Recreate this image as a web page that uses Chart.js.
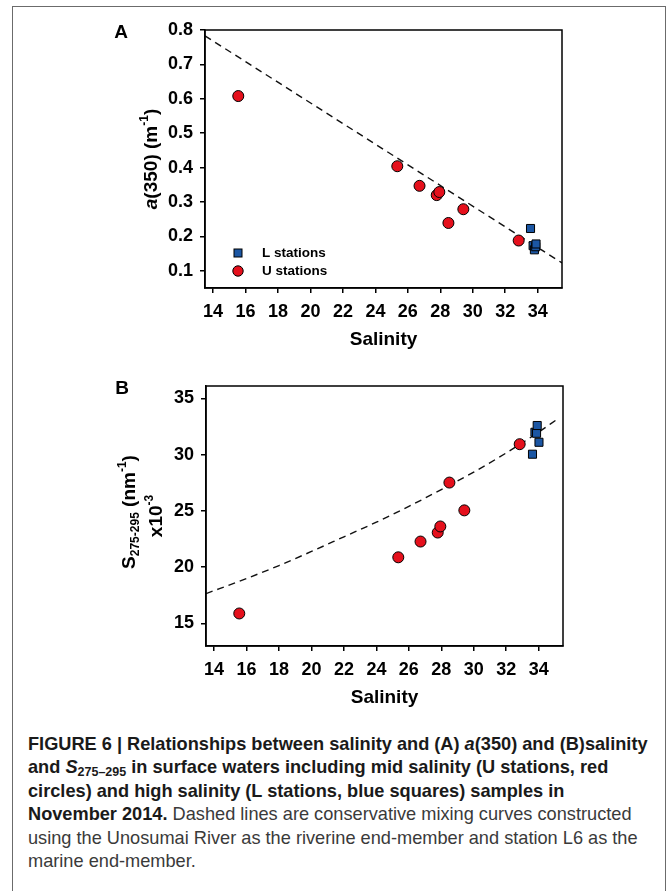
<!DOCTYPE html>
<html>
<head>
<meta charset="UTF-8">
<title>Salinity vs a(350) and S275-295</title>
<script src="https://cdn.jsdelivr.net/npm/chart.js"></script>
<style>
  body { margin: 0; background: #fff; font-family: "Liberation Sans", Arial, sans-serif; }
  #frame { position: absolute; left: 12px; top: 6px; width: 652px; height: 900px;
           border: 1px solid #6b6b6b; border-bottom: none; }
  canvas { position: absolute; left: 0; }
  #chartA { top: 0; }
  #chartB { top: 356px; }
  .cap { position: absolute; left: 28px; font-size: 18.2px; line-height: 23.4px;
         white-space: nowrap; color: #3a3a3a; }
  .cap b { color: #1a1a1a; }
  .cap sub { font-size: 12.5px; vertical-align: -3px; line-height: 0; }
</style>
</head>
<body>
<div id="frame"></div>
<canvas id="chartA" width="667" height="360"></canvas>
<canvas id="chartB" width="667" height="362"></canvas>

<div class="cap" style="top:733px"><b>FIGURE 6 | Relationships between salinity and (A) <i>a</i>(350) and (B)salinity</b></div>
<div class="cap" style="top:756px"><b>and <i>S</i><sub>275–295</sub> in surface waters including mid salinity (U stations, red</b></div>
<div class="cap" style="top:780px"><b>circles) and high salinity (L stations, blue squares) samples in</b></div>
<div class="cap" style="top:803px"><b>November 2014.</b> Dashed lines are conservative mixing curves constructed</div>
<div class="cap" style="top:827px">using the Unosumai River as the riverine end-member and station L6 as the</div>
<div class="cap" style="top:850px">marine end-member.</div>

<script>
// U stations (mid salinity) - same stations in both panels
const uSal = [15.55, 25.35, 26.72, 27.78, 27.94, 28.50, 29.42, 32.83];
const uA350 = [0.608, 0.404, 0.347, 0.320, 0.329, 0.239, 0.279, 0.188];
const uS275 = [15.89, 20.88, 22.28, 23.08, 23.62, 27.52, 25.05, 30.93];

// L stations (high salinity), read per panel
const lSalA = [33.56, 33.72, 33.80, 33.88, 33.90];
const lA350 = [0.223, 0.173, 0.161, 0.170, 0.178];
const lSalB = [33.62, 33.77, 33.87, 33.91, 34.02];
const lS275 = [30.04, 31.99, 31.90, 32.59, 31.10];

// conservative mixing curves
const mixSalA = [13.5, 35.5];
const mixA350 = [0.783, 0.123];
const mixSalB = [13.5, 16, 18, 20, 22, 24, 26, 28, 30, 32, 34, 35.1];
const mixS275 = [17.65, 19.0, 20.15, 21.4, 22.7, 24.0, 25.4, 26.9, 28.45, 30.15, 32.0, 33.1];

// tick labels
const salTicks = [14, 16, 18, 20, 22, 24, 26, 28, 30, 32, 34];
const aTicks = [0.1, 0.2, 0.3, 0.4, 0.5, 0.6, 0.7, 0.8];
const sTicks = [15, 20, 25, 30, 35];

const FAM = '"Liberation Sans", Arial, sans-serif';
const RED = '#e5101c';
const BLUE = '#1b56a3';

const pts = (xs, ys) => xs.map((x, i) => ({ x: x, y: ys[i] }));

function drawRich(ctx, parts, cx, cy, rotate) {
  ctx.save();
  ctx.translate(cx, cy);
  if (rotate) ctx.rotate(-Math.PI / 2);
  let w = 0;
  parts.forEach(p => { ctx.font = p.font; w += ctx.measureText(p.t).width; });
  let x = -w / 2;
  ctx.textBaseline = 'middle';
  ctx.textAlign = 'left';
  ctx.fillStyle = '#000';
  parts.forEach(p => {
    ctx.font = p.font;
    ctx.fillText(p.t, x, p.dy || 0);
    x += ctx.measureText(p.t).width;
  });
  ctx.restore();
}

const fB = 'bold 19px ' + FAM;
const fBI = 'italic bold 19px ' + FAM;
const fS = 'bold 12px ' + FAM;

function makeChart(id, o) {
  const decor = {
    id: 'decor',
    afterDraw(chart) {
      const ctx = chart.ctx, a = chart.chartArea;
      ctx.save();
      ctx.strokeStyle = '#000';
      ctx.lineWidth = 1.5;
      ctx.strokeRect(a.left, a.top, a.right - a.left, a.bottom - a.top);
      // panel letter
      ctx.font = 'bold 19px ' + FAM;
      ctx.fillStyle = '#000';
      ctx.textAlign = 'center';
      ctx.textBaseline = 'middle';
      ctx.fillText(o.letter, a.left - 84, a.top + 3);
      // x title
      ctx.fillText('Salinity', (a.left + a.right) / 2, a.bottom + 52);
      ctx.restore();
      o.yTitle(ctx, a);
      if (o.legend) o.legend(ctx, a);
    }
  };
  return new Chart(document.getElementById(id), {
    type: 'scatter',
    data: {
      datasets: [
        { label: 'L stations', data: o.l, pointStyle: 'rect', pointRadius: 5.7,
          backgroundColor: BLUE, borderColor: '#000', borderWidth: 1 },
        { label: 'U stations', data: o.u, pointStyle: 'circle', pointRadius: 5.5,
          backgroundColor: RED, borderColor: '#000', borderWidth: 1 },
        { type: 'line', label: 'mixing', data: o.mix, showLine: true, pointRadius: 0,
          borderColor: '#111', borderWidth: 1.4, borderDash: [7, 5],
          cubicInterpolationMode: 'monotone', fill: false }
      ]
    },
    options: {
      responsive: false,
      animation: false,
      layout: { padding: { top: 30, right: o.right, left: 0, bottom: 0 } },
      plugins: { legend: { display: false }, tooltip: { enabled: false } },
      scales: {
        x: {
          type: 'linear', min: 13.5, max: 35.5,
          afterBuildTicks(s) { s.ticks = salTicks.map(v => ({ value: v })); },
          ticks: { color: '#000', padding: 8, maxRotation: 0, autoSkip: false,
                   font: { family: FAM, size: 18, weight: 'bold' } },
          grid: { drawOnChartArea: false, tickLength: 5, color: '#000', lineWidth: 1.5 },
          border: { color: '#000', width: 1.5 },
          afterFit(s) { s.height = 72; }
        },
        y: {
          type: 'linear', min: o.ymin, max: o.ymax,
          afterBuildTicks(s) { s.ticks = o.ticks.map(v => ({ value: v })); },
          ticks: { color: '#000', padding: 7, autoSkip: false,
                   font: { family: FAM, size: 18, weight: 'bold' },
                   callback: o.fmt },
          grid: { drawOnChartArea: false, tickLength: 5, color: '#000', lineWidth: 1.5 },
          border: { color: '#000', width: 1.5 },
          afterFit(s) { s.width = o.left; }
        }
      }
    },
    plugins: [decor]
  });
}

makeChart('chartA', {
  letter: 'A', left: 205, right: 105,
  ymin: 0.05, ymax: 0.8, ticks: aTicks, fmt: v => v.toFixed(1),
  l: pts(lSalA, lA350), u: pts(uSal, uA350), mix: pts(mixSalA, mixA350),
  yTitle(ctx, a) {
    drawRich(ctx, [
      { t: 'a', font: fBI }, { t: '(350) (m', font: fB },
      { t: '-1', font: fS, dy: -7 }, { t: ')', font: fB }
    ], a.left - 53, (a.top + a.bottom) / 2, true);
  },
  legend(ctx, a) {
    const x = a.left + 33;
    ctx.save();
    ctx.lineWidth = 1;
    ctx.strokeStyle = '#000';
    ctx.fillStyle = BLUE;
    ctx.fillRect(x - 4, a.bottom - 39, 8, 8);
    ctx.strokeRect(x - 4, a.bottom - 39, 8, 8);
    ctx.beginPath();
    ctx.arc(x, a.bottom - 17, 5.2, 0, Math.PI * 2);
    ctx.fillStyle = RED;
    ctx.fill();
    ctx.stroke();
    ctx.fillStyle = '#000';
    ctx.font = 'bold 13.5px ' + FAM;
    ctx.textBaseline = 'middle';
    ctx.textAlign = 'left';
    ctx.fillText('L stations', a.left + 57, a.bottom - 35);
    ctx.fillText('U stations', a.left + 57, a.bottom - 17);
    ctx.restore();
  }
});

makeChart('chartB', {
  letter: 'B', left: 206, right: 104,
  ymin: 13, ymax: 36.1, ticks: sTicks, fmt: v => String(v),
  l: pts(lSalB, lS275), u: pts(uSal, uS275), mix: pts(mixSalB, mixS275),
  yTitle(ctx, a) {
    const cy = (a.top + a.bottom) / 2;
    drawRich(ctx, [
      { t: 'S', font: fB }, { t: '275-295', font: fS, dy: 6 },
      { t: ' (nm', font: fB }, { t: '-1', font: fS, dy: -7 }, { t: ')', font: fB }
    ], a.left - 76, cy - 4, true);
    drawRich(ctx, [
      { t: 'x10', font: fB }, { t: '-3', font: fS, dy: -7 }
    ], a.left - 49, cy, true);
  }
});
</script>
</body>
</html>
